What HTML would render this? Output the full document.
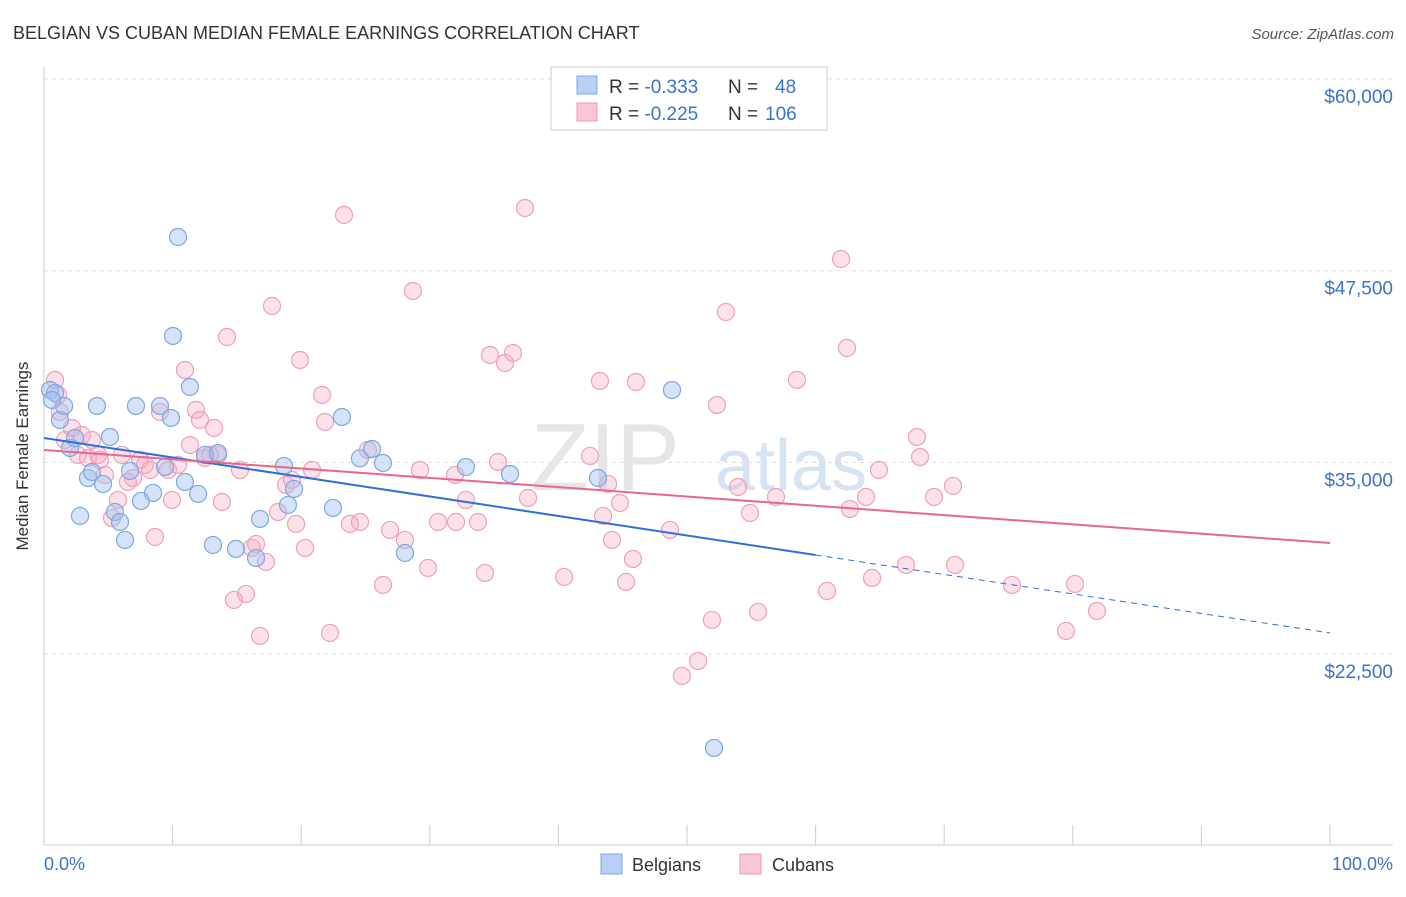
<!DOCTYPE html>
<html><head><meta charset="utf-8"><style>
body{margin:0;background:#fff;font-family:"Liberation Sans",sans-serif;}
svg text{font-family:"Liberation Sans",sans-serif;}
</style></head><body>
<svg id="chart" width="1406" height="892" viewBox="0 0 1406 892" xmlns="http://www.w3.org/2000/svg">
<text x="13" y="39" font-size="18" fill="#333">BELGIAN VS CUBAN MEDIAN FEMALE EARNINGS CORRELATION CHART</text>
<text x="1394" y="39" font-size="15" fill="#555" font-style="italic" text-anchor="end">Source: ZipAtlas.com</text>
<g id="grid"></g>
<text x="680" y="490" font-size="96" fill="#e6e6e6" font-family="Liberation Serif" text-anchor="end">ZIP</text>
<text x="715" y="490" font-size="72" fill="#d5e3f3">atlas</text>
<line x1="44" y1="67" x2="44" y2="845" stroke="#ccc"/>
<line x1="44" y1="845" x2="1393" y2="845" stroke="#ccc"/>
<g id="ticks"></g>
<text x="28" y="456" font-size="17" fill="#333" text-anchor="middle" transform="rotate(-90 28 456)">Median Female Earnings</text>
<text x="44" y="870" font-size="18" fill="#3b73c8">0.0%</text>
<text x="1393" y="870" font-size="18" fill="#3b73c8" text-anchor="end">100.0%</text>
<g id="points"></g>
<g id="trends"></g>
<g>
<rect x="551" y="67" width="276" height="63" fill="#fff" stroke="#ccc"/>
<rect x="577" y="76" width="20" height="18" fill="#b8d0f3" stroke="#7fa8e0"/>
<rect x="577" y="103" width="20" height="18" fill="#f9c6d6" stroke="#ee9ab5"/>
<text x="609" y="93" font-size="19" fill="#333">R = <tspan fill="#3b73c8">-0.333</tspan><tspan x="728">N = </tspan><tspan x="775" fill="#3b73c8">48</tspan></text>
<text x="609" y="120" font-size="19" fill="#333">R = <tspan fill="#3b73c8">-0.225</tspan><tspan x="728">N = </tspan><tspan x="765" fill="#3b73c8">106</tspan></text>
</g>
<g><rect x="601" y="854" width="21" height="20" fill="#b8d0f3" stroke="#7fa8e0"/><text x="632" y="871" font-size="18" fill="#333">Belgians</text></g>
<g><rect x="740" y="854" width="21" height="20" fill="#f9c6d6" stroke="#ee9ab5"/><text x="772" y="871" font-size="18" fill="#333">Cubans</text></g>
</svg>
<script>
const yTicks=[60000,47500,35000,22500];
const yTickLabels=["$60,000","$47,500","$35,000","$22,500"];
const xTicks=[0,10,20,30,40,50,60,70,80,90,100];
const belgX=[0.47,0.86,1.24,1.56,2.02,2.41,2.80,3.42,3.73,4.12,4.59,5.13,5.52,5.91,6.30,6.69,7.15,7.54,8.48,9.02,9.41,9.88,10.03,10.42,10.96,11.35,11.98,12.52,13.14,13.53,14.93,16.49,16.80,18.66,18.97,19.44,22.47,23.17,24.57,25.51,26.36,28.07,32.81,36.24,43.08,48.83,52.10,0.62];
const belgY=[39723,39527,37767,38680,35941,36593,31508,33985,34376,38680,33594,36658,31769,31116,29943,34442,38680,32486,33008,38680,34702,37897,43244,49698,33724,39918,32942,35485,29617,35615,29356,28769,31312,34768,32225,33268,32030,37962,35267,35876,34963,29095,34702,34246,33985,39723,16381,39071];
const cubX=[0.86,1.09,1.24,1.63,2.18,2.64,2.95,3.42,3.73,4.20,4.35,4.74,5.29,5.75,6.07,6.53,6.92,7.47,7.85,8.24,8.63,9.02,9.64,9.95,10.42,10.96,11.35,11.82,12.13,12.52,12.91,13.22,13.53,13.84,14.23,14.77,15.24,15.71,16.17,16.49,16.80,17.26,17.73,18.20,18.82,19.28,19.60,19.91,20.30,20.84,21.62,21.85,22.24,23.33,23.79,24.57,25.19,26.36,26.91,28.07,28.69,29.24,29.86,30.64,31.96,32.04,32.81,33.75,34.29,34.68,35.85,36.47,35.30,37.40,37.64,40.44,42.46,43.23,43.47,43.86,44.17,44.79,45.26,45.80,46.03,48.68,49.61,50.86,51.94,52.33,53.03,53.97,54.90,55.52,56.92,58.55,60.89,61.98,62.44,62.67,63.92,64.39,64.93,67.03,67.88,68.12,69.21,70.68,70.84,75.27,79.47,80.17,81.88];
const cubY=[40375,39397,38288,36463,37245,35485,36789,35289,36463,35485,35159,34181,31377,32551,35485,33724,33985,35159,34833,34507,30138,38288,34507,32551,34833,41027,36137,38419,37767,35289,35485,37245,35485,32420,43178,26031,34507,26422,29421,29682,23684,28508,45200,31768,33529,33855,30986,41679,29421,34507,39397,37636,23879,51133,30986,31116,35811,27009,30595,29943,46178,34507,28117,31116,34181,31116,32551,31116,27791,42005,41483,42135,35028,51589,32681,27530,35420,40310,31508,33594,29943,32355,27204,28704,40244,30595,21076,22054,24727,38745,44808,33398,31703,25248,32746,40375,26618,48264,42461,31964,32746,27465,34507,28313,36658,35354,32746,33464,28313,27009,24010,27074,25314];
const belgTrend=[36593,23879];
const cubTrend=[35811,29747];
const belgSolidEnd=60;
const NS="http://www.w3.org/2000/svg";
const xS=p=>44+p*12.86;
const yS=v=>79+(60000-v)*191.7/12500;
function mk(tag,attrs,parent){const e=document.createElementNS(NS,tag);for(const k in attrs)e.setAttribute(k,attrs[k]);parent.appendChild(e);return e;}
const grid=document.getElementById('grid');
yTicks.forEach((t,i)=>{
  const l=mk('line',{x1:44,x2:1393,y1:yS(t),y2:yS(t),stroke:'#ddd','stroke-dasharray':'4,4'},grid);
  
  
  const tx=mk('text',{x:1393,y:yS(t)+24,'font-size':19,fill:'#3b73c8','text-anchor':'end'},grid);
  tx.textContent=yTickLabels[i];
  
  
});
const tk=document.getElementById('ticks');
xTicks.forEach(t=>{
  const l=mk('line',{x1:xS(t),x2:xS(t),y1:825,y2:845,stroke:'#ccc'},tk);
  
  
});
const pts=document.getElementById('points');
cubX.forEach((x,i)=>{
  const c=mk('circle',{cx:xS(x),cy:yS(cubY[i]),r:8.5,fill:'rgba(245,170,195,0.35)',stroke:'#eea0ba','stroke-width':1.2},pts);
  
  
});
belgX.forEach((x,i)=>{
  const c=mk('circle',{cx:xS(x),cy:yS(belgY[i]),r:8.5,fill:'rgba(160,192,238,0.45)',stroke:'#7fa8e0','stroke-width':1.2},pts);
  
  
});
const tr=document.getElementById('trends');
const bAt=p=>belgTrend[0]+(belgTrend[1]-belgTrend[0])*p/100;
let l1=mk('line',{x1:xS(0),y1:yS(bAt(0)),x2:xS(belgSolidEnd),y2:yS(bAt(belgSolidEnd)),stroke:'#2f6fd6','stroke-width':2},tr);


let l2=mk('line',{x1:xS(belgSolidEnd),y1:yS(bAt(belgSolidEnd)),x2:xS(100),y2:yS(bAt(100)),stroke:'#2f6fd6','stroke-width':1,'stroke-dasharray':'6,5'},tr);


let l3=mk('line',{x1:xS(0),y1:yS(cubTrend[0]),x2:xS(100),y2:yS(cubTrend[1]),stroke:'#e8678f','stroke-width':2},tr);


</script>
</body></html>
